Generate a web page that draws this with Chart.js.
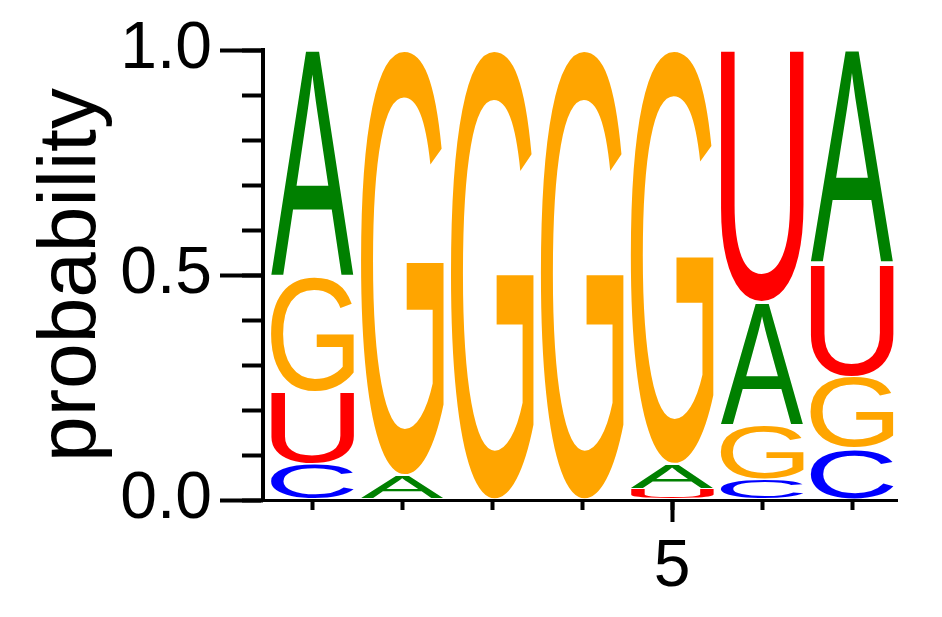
<!DOCTYPE html>
<html>
<head>
<meta charset="utf-8">
<script src="https://cdn.jsdelivr.net/npm/chart.js@4.4.1/dist/chart.umd.min.js"></script>
<style>
  html, body { margin: 0; padding: 0; background: #fff; }
  #wrap { width: 942px; height: 617px; }
</style>
</head>
<body>
<div id="wrap"><canvas id="logo"></canvas></div>
<script>
const positions = [1, 2, 3, 4, 5, 6, 7];
const letters = ['A', 'C', 'G', 'U'];
const probA = [0.505, 0.055, 0, 0, 0.055, 0.275, 0.475];
const probC = [0.08, 0, 0, 0, 0, 0.045, 0.115];
const probG = [0.255, 0.945, 1, 1, 0.92, 0.12, 0.16];
const probU = [0.16, 0, 0, 0, 0.025, 0.56, 0.25];
const yMajorTicks = [0, 0.5, 1];
const yMinorTicks = [0, 0.1, 0.2, 0.3, 0.4, 0.5, 0.6, 0.7, 0.8, 0.9, 1];
const xLabelTicks = [5];

const letterColors = { A: '#008000', C: '#0000ff', G: '#ffa500', U: '#ff0000' };
const FONT = '"Liberation Sans", Arial, Helvetica, sans-serif';

// stack each column: smallest letter at the bottom, biggest on top
const probs = { A: probA, C: probC, G: probG, U: probU };
const spans = { A: [], C: [], G: [], U: [] };
positions.forEach((pos, i) => {
  const order = letters.slice().sort((a, b) => probs[a][i] - probs[b][i]);
  let acc = 0;
  order.forEach(l => {
    spans[l].push({ x: pos, y: [acc, acc + probs[l][i]] });
    acc += probs[l][i];
  });
});

function drawGlyph(ctx, ch, color, left, top, w, h) {
  ctx.save();
  ctx.font = '200px ' + FONT;
  ctx.textAlign = 'left';
  ctx.textBaseline = 'alphabetic';
  const m = ctx.measureText(ch);
  const gw = m.actualBoundingBoxLeft + m.actualBoundingBoxRight;
  const gh = m.actualBoundingBoxAscent + m.actualBoundingBoxDescent;
  ctx.translate(left, top);
  ctx.scale(w / gw, h / gh);
  ctx.fillStyle = color;
  ctx.fillText(ch, m.actualBoundingBoxLeft, m.actualBoundingBoxAscent);
  ctx.restore();
}

const glyphs = {
  id: 'glyphs',
  afterDatasetsDraw(chart) {
    const ctx = chart.ctx;
    chart.data.datasets.forEach((ds, di) => {
      chart.getDatasetMeta(di).data.forEach(bar => {
        const { x, y, base, width } = bar.getProps(['x', 'y', 'base', 'width'], true);
        const top = Math.min(y, base);
        const h = Math.abs(base - y);
        if (h < 1) return;
        drawGlyph(ctx, ds.label, letterColors[ds.label], x - width / 2, top + 1, width, h - 2);
      });
    });
  }
};

const setTicks = list => scale => { scale.ticks = list.map(v => ({ value: v })); };

new Chart(document.getElementById('logo'), {
  type: 'bar',
  data: {
    datasets: letters.map(l => ({
      label: l,
      data: spans[l],
      backgroundColor: 'rgba(0,0,0,0)',
      borderWidth: 0,
      grouped: false,
      barPercentage: 0.92,
      categoryPercentage: 1,
    })),
  },
  options: {
    responsive: true,
    maintainAspectRatio: false,
    animation: false,
    layout: { padding: { top: 50, right: 45, left: 0, bottom: 0 } },
    plugins: {
      legend: { display: false },
      tooltip: { enabled: false },
    },
    scales: {
      x: {
        type: 'linear',
        position: 'bottom',
        min: 0.45,
        max: 7.5,
        offset: false,
        weight: 0,
        afterBuildTicks: setTicks(positions),
        afterFit: s => { s.height = 0; },
        ticks: { display: false },
        grid: { offset: false, drawOnChartArea: false, tickLength: 10, tickWidth: 4, tickColor: '#000' },
        border: { display: true, width: 3, color: '#000' },
      },
      xLabels: {
        type: 'linear',
        position: 'bottom',
        min: 0.45,
        max: 7.5,
        offset: false,
        weight: 1,
        afterBuildTicks: setTicks(xLabelTicks),
        afterFit: s => { s.height = 117; },
        ticks: {
          font: { size: 66, family: FONT },
          color: '#000',
          padding: 6,
          maxRotation: 0,
          callback: v => String(v),
        },
        grid: { offset: false, drawOnChartArea: false, tickLength: 22, tickWidth: 4, tickColor: '#000' },
        border: { display: false },
      },
      y: {
        type: 'linear',
        position: 'left',
        min: 0,
        max: 1,
        weight: 1,
        afterBuildTicks: setTicks(yMajorTicks),
        afterFit: s => { s.width = 263; },
        ticks: {
          font: { size: 66, family: FONT },
          color: '#000',
          padding: 8,
          callback: v => v.toFixed(1),
        },
        grid: { drawOnChartArea: false, tickLength: 43, tickWidth: 4, tickColor: '#000' },
        border: { display: true, width: 4, color: '#000' },
        title: {
          display: true,
          text: 'probability',
          color: '#000',
          font: { size: 82, family: FONT },
          padding: { top: 23, bottom: 0 },
        },
      },
      yMinor: {
        type: 'linear',
        position: 'left',
        min: 0,
        max: 1,
        weight: 0,
        afterBuildTicks: setTicks(yMinorTicks),
        afterFit: s => { s.width = 0; },
        ticks: { display: false },
        grid: { drawOnChartArea: false, tickLength: 21, tickWidth: 4, tickColor: '#000' },
        border: { display: false },
      },
    },
  },
  plugins: [glyphs],
});
</script>
</body>
</html>
